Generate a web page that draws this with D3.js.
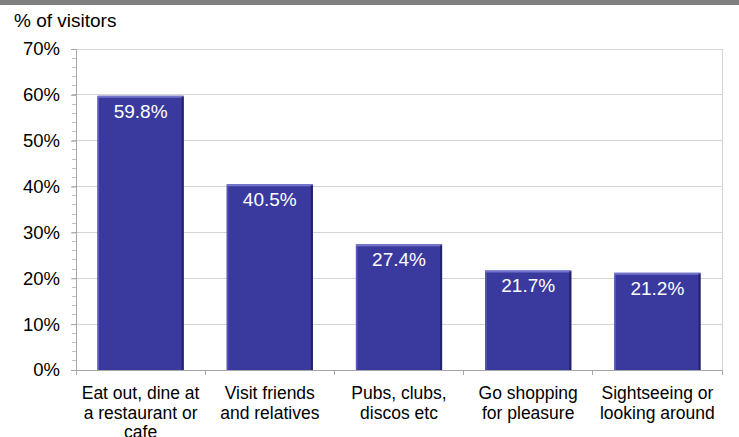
<!DOCTYPE html>
<html>
<head>
<meta charset="utf-8">
<script src="https://cdn.jsdelivr.net/npm/d3@7"></script>
<style>
  body { margin:0; background:#fff; }
  svg { display:block; font-family: Arial, "Liberation Sans", sans-serif; }
</style>
</head>
<body>
<svg id="chart" width="739" height="437"></svg>
<script>
// data
const categories = [
  ['Eat out, dine at','a restaurant or','cafe'],
  ['Visit friends','and relatives'],
  ['Pubs, clubs,','discos etc'],
  ['Go shopping','for pleasure'],
  ['Sightseeing or','looking around']
];
const values = [59.8, 40.5, 27.4, 21.7, 21.2];
const yTicks = [0,10,20,30,40,50,60,70];
const minorTicks = d3.range(0,71,2);

const W=739, H=437;
const plotLeft=76, plotRight=722, plotTop=49, plotBottom=370;

let svg=d3.select('#chart');

// gray strip along the top
svg.append('rect').attr('x',0).attr('y',0).attr('width',W).attr('height',5).attr('fill','#808080');

svg.append('text').attr('x',14).attr('y',27)
   .attr('font-size',19).attr('fill','#000').text('% of visitors');

let x=d3.scaleBand().domain(d3.range(values.length)).range([plotLeft,plotRight]).paddingInner(0.333).paddingOuter(0.1665);
let xb=d3.scaleBand().domain(d3.range(values.length)).range([plotLeft,plotRight]);
let y=d3.scaleLinear().domain([0,70]).range([plotBottom,plotTop]);

// gridlines
svg.append('g').selectAll('line').data(yTicks.filter(d=>d>0))
   .join('line')
   .attr('x1',plotLeft).attr('x2',plotRight)
   .attr('y1',d=>y(d)).attr('y2',d=>y(d))
   .attr('stroke','#d4d4d4').attr('stroke-width',1).attr('shape-rendering','crispEdges');

// right border of plot area
svg.append('line').attr('x1',plotRight).attr('x2',plotRight).attr('y1',plotTop).attr('y2',plotBottom)
   .attr('stroke','#d4d4d4').attr('shape-rendering','crispEdges');

// minor ticks
svg.append('g').selectAll('line').data(minorTicks)
   .join('line')
   .attr('x1',plotLeft-4).attr('x2',plotLeft)
   .attr('y1',d=>y(d)).attr('y2',d=>y(d))
   .attr('stroke','#c0c0c0').attr('shape-rendering','crispEdges');

// y axis
let yAxis=d3.axisLeft(y).tickValues(yTicks).tickFormat(d=>d+'%').tickSize(5).tickPadding(11);
let ga=svg.append('g').attr('transform','translate('+plotLeft+',0)').call(yAxis);
ga.select('.domain').attr('stroke','#a6a6a6');
ga.selectAll('.tick line').attr('stroke','#a6a6a6');
ga.selectAll('.tick text').attr('font-size',18.5).attr('fill','#000').attr('font-family','Arial, "Liberation Sans", sans-serif');

// x axis baseline and category separators
svg.append('line').attr('x1',plotLeft).attr('x2',plotRight).attr('y1',plotBottom).attr('y2',plotBottom)
   .attr('stroke','#a6a6a6').attr('shape-rendering','crispEdges');
svg.append('g').selectAll('line').data(d3.range(values.length+1))
   .join('line')
   .attr('x1',i=>plotLeft+i*xb.step()).attr('x2',i=>plotLeft+i*xb.step())
   .attr('y1',plotBottom).attr('y2',plotBottom+5)
   .attr('stroke','#a6a6a6').attr('shape-rendering','crispEdges');

// bars with bevelled edges
let bars=svg.append('g').selectAll('g').data(values).join('g');
bars.append('rect')
   .attr('x',(d,i)=>x(i)).attr('y',d=>y(d))
   .attr('width',x.bandwidth()).attr('height',d=>plotBottom-y(d))
   .attr('fill','#3a3a9e');
bars.append('rect')
   .attr('x',(d,i)=>x(i)).attr('y',d=>y(d))
   .attr('width',x.bandwidth()).attr('height',2)
   .attr('fill','#7474cc');
bars.append('rect')
   .attr('x',(d,i)=>x(i)).attr('y',d=>y(d)+2)
   .attr('width',1.5).attr('height',d=>plotBottom-y(d)-2)
   .attr('fill','#5a5abb');
bars.append('rect')
   .attr('x',(d,i)=>x(i)+x.bandwidth()-2).attr('y',d=>y(d)+1)
   .attr('width',2).attr('height',d=>plotBottom-y(d)-1)
   .attr('fill','#22226a');

// value labels
bars.append('text')
   .attr('x',(d,i)=>x(i)+x.bandwidth()/2).attr('y',d=>y(d)+22)
   .attr('text-anchor','middle').attr('font-size',19).attr('fill','#fff')
   .text(d=>d.toFixed(1)+'%');

// category labels
let cl=svg.append('g').selectAll('text').data(categories).join('text')
   .attr('x',(d,i)=>xb(i)+xb.bandwidth()/2)
   .attr('y',399)
   .attr('text-anchor','middle').attr('font-size',17.5).attr('fill','#000');
cl.selectAll('tspan').data(d=>d).join('tspan')
   .attr('x',function(){ return d3.select(this.parentNode).attr('x'); })
   .attr('dy',(d,i)=>i==0?0:19.5)
   .text(d=>d);
</script>
</body>
</html>
